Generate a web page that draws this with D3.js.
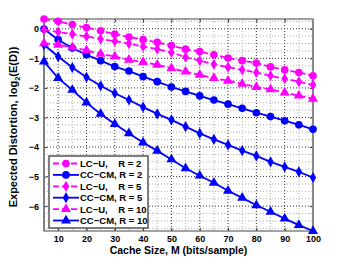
<!DOCTYPE html>
<html>
<head>
<meta charset="utf-8">
<script src="https://cdn.jsdelivr.net/npm/d3@7"></script>
<style>
  body { margin: 0; background: #fff; }
  text { font-family: "Liberation Sans", Arial, sans-serif; font-weight: bold; }
</style>
</head>
<body>
<div id="chart"></div>
<script>
// cache size (bits/sample)
const cacheSize = [5, 10, 15, 20, 25, 30, 35, 40, 45, 50, 55, 60, 65, 70, 75, 80, 85, 90, 95, 100];

// log2 expected distortion per scheme
const lcuR2 = [0.33, 0.25, 0.14, 0.04, -0.07, -0.18, -0.28, -0.37, -0.46, -0.57, -0.69, -0.77, -0.88, -0.99, -1.08, -1.16, -1.29, -1.39, -1.48, -1.59];
const ccR2 = [-0.01, -0.37, -0.65, -0.88, -1.08, -1.28, -1.43, -1.62, -1.79, -1.97, -2.12, -2.27, -2.41, -2.55, -2.69, -2.84, -2.97, -3.11, -3.25, -3.4];
const lcuR5 = [-0.03, -0.11, -0.18, -0.26, -0.35, -0.42, -0.5, -0.6, -0.69, -0.8, -0.96, -1.08, -1.2, -1.3, -1.39, -1.48, -1.59, -1.69, -1.79, -1.9];
const ccR5 = [-0.54, -0.94, -1.31, -1.64, -1.93, -2.18, -2.41, -2.65, -2.88, -3.08, -3.31, -3.54, -3.74, -3.93, -4.12, -4.3, -4.5, -4.67, -4.84, -5.03];
const lcuR10 = [-0.49, -0.54, -0.63, -0.73, -0.85, -0.94, -1.05, -1.13, -1.22, -1.34, -1.45, -1.56, -1.67, -1.76, -1.86, -1.97, -2.05, -2.16, -2.26, -2.37];
const ccR10 = [-1.11, -1.67, -2.07, -2.5, -2.88, -3.22, -3.54, -3.85, -4.13, -4.42, -4.72, -4.97, -5.21, -5.48, -5.72, -5.97, -6.19, -6.42, -6.64, -6.84];

const seriesNames = ["LC\u2212U,    R = 2", "CC\u2212CM, R = 2", "LC\u2212U,    R = 5", "CC\u2212CM, R = 5", "LC\u2212U,    R = 10", "CC\u2212CM, R = 10"];
const xTicks = [10, 20, 30, 40, 50, 60, 70, 80, 90, 100];
const yTicks = [0, -1, -2, -3, -4, -5, -6];

const series = [
  { name: seriesNames[0], values: lcuR2, color: "#ff00ff", dash: "6,3", marker: "circle" },
  { name: seriesNames[1], values: ccR2, color: "#0000ff", dash: null, marker: "circle" },
  { name: seriesNames[2], values: lcuR5, color: "#ff00ff", dash: "6,3", marker: "diamond" },
  { name: seriesNames[3], values: ccR5, color: "#0000ff", dash: null, marker: "diamond" },
  { name: seriesNames[4], values: lcuR10, color: "#ff00ff", dash: "6,3", marker: "triangle" },
  { name: seriesNames[5], values: ccR10, color: "#0000ff", dash: null, marker: "triangle" }
];

const width = 346, height = 260;
const margin = { top: 19, right: 33, bottom: 29, left: 44 };
const w = width - margin.left - margin.right;
const h = height - margin.top - margin.bottom;

const svg = d3.select("#chart").append("svg")
  .attr("width", width)
  .attr("height", height);

const g = svg.append("g")
  .attr("transform", `translate(${margin.left},${margin.top})`);

// axis tight
const allValues = series.flatMap(s => s.values);
const x = d3.scaleLinear().domain(d3.extent(cacheSize)).range([0, w]);
const y = d3.scaleLinear().domain(d3.extent(allValues)).range([h, 0]);

// minor grid
const xMinor = d3.range(5, 100, 5).filter(v => v % 10 !== 0);
const yMinor = d3.range(-6.75, 0.3, 0.25).filter(v => Math.abs(v - Math.round(v)) > 0.01);
g.selectAll(".xminor").data(xMinor).enter().append("line")
  .attr("x1", d => x(d)).attr("x2", d => x(d)).attr("y1", 0).attr("y2", h)
  .attr("stroke", "#b0b0b0").attr("stroke-dasharray", "1,2");
g.selectAll(".yminor").data(yMinor).enter().append("line")
  .attr("x1", 0).attr("x2", w).attr("y1", d => y(d)).attr("y2", d => y(d))
  .attr("stroke", "#b0b0b0").attr("stroke-dasharray", "1,2");

// major grid
g.selectAll(".xmajor").data(xTicks).enter().append("line")
  .attr("x1", d => x(d)).attr("x2", d => x(d)).attr("y1", 0).attr("y2", h)
  .attr("stroke", "#333").attr("stroke-dasharray", "1,2");
g.selectAll(".ymajor").data(yTicks).enter().append("line")
  .attr("x1", 0).attr("x2", w).attr("y1", d => y(d)).attr("y2", d => y(d))
  .attr("stroke", "#333").attr("stroke-dasharray", "1,2");

// axes
g.append("g")
  .attr("transform", `translate(0,${h})`)
  .call(d3.axisBottom(x).tickValues(xTicks).tickSizeInner(-3).tickSizeOuter(0).tickPadding(5));
g.append("g")
  .call(d3.axisLeft(y).tickValues(yTicks).tickSizeInner(-3).tickSizeOuter(0).tickPadding(5)
    .tickFormat(d => d < 0 ? "\u2212" + Math.abs(d) : d));
g.append("g")
  .call(d3.axisTop(x).tickValues(xTicks).tickSizeInner(-3).tickSizeOuter(0).tickFormat(""));
g.append("g")
  .attr("transform", `translate(${w},0)`)
  .call(d3.axisRight(y).tickValues(yTicks).tickSizeInner(-3).tickSizeOuter(0).tickFormat(""));
g.selectAll(".domain").remove();
g.selectAll(".tick line").attr("stroke", "#333");
g.selectAll(".tick text").attr("font-size", "9px").attr("fill", "#000")
  .style("font-family", "'Liberation Sans', Arial, sans-serif").style("font-weight", "bold");

// frame
g.append("rect").attr("width", w).attr("height", h)
  .attr("fill", "none").attr("stroke", "#444").attr("stroke-width", 1);
g.append("line").attr("x1", w).attr("x2", w).attr("y1", 0).attr("y2", h)
  .attr("stroke", "#888").attr("stroke-width", 2);
g.append("line").attr("x1", 0).attr("x2", 0).attr("y1", 0).attr("y2", h)
  .attr("stroke", "#777").attr("stroke-width", 1.5);

const symbolFor = {
  circle: d3.symbol().type(d3.symbolCircle).size(46),
  diamond: d3.symbol().type(d3.symbolDiamond).size(36),
  triangle: d3.symbol().type(d3.symbolTriangle).size(44)
};

const line = d3.line()
  .x((d, i) => x(cacheSize[i]))
  .y(d => y(d));

const plot = g.append("g");
series.forEach(s => {
  plot.append("path")
    .datum(s.values)
    .attr("d", line)
    .attr("fill", "none")
    .attr("stroke", s.color)
    .attr("stroke-width", 1.8)
    .attr("stroke-dasharray", s.dash);
  plot.selectAll(null)
    .data(s.values)
    .enter()
    .append("path")
    .attr("d", symbolFor[s.marker])
    .attr("transform", (d, i) => `translate(${x(cacheSize[i])},${y(d)})`)
    .attr("fill", s.color);
});

// legend
const legend = g.append("g").attr("transform", "translate(5,137)");
legend.append("rect")
  .attr("width", 99).attr("height", 72)
  .attr("fill", "#fff").attr("stroke", "#555").attr("stroke-width", 1.5);
series.forEach((s, i) => {
  const ly = 7.5 + i * 11.4;
  legend.append("line")
    .attr("x1", 4).attr("x2", 30).attr("y1", ly).attr("y2", ly)
    .attr("stroke", s.color).attr("stroke-width", 1.8)
    .attr("stroke-dasharray", s.dash);
  legend.append("path")
    .attr("d", symbolFor[s.marker])
    .attr("transform", `translate(17,${ly})`)
    .attr("fill", s.color);
  legend.append("text")
    .attr("x", 31).attr("y", ly + 3.5)
    .attr("font-size", "9.5px")
    .attr("xml:space", "preserve")
    .style("white-space", "pre")
    .text(s.name);
});

// axis labels
svg.append("text")
  .attr("x", margin.left + w / 2).attr("y", 254)
  .attr("text-anchor", "middle").attr("font-size", "10.5px")
  .text("Cache Size, M (bits/sample)");

const yl = svg.append("text")
  .attr("transform", `translate(17,${margin.top + h / 2 + 2}) rotate(-90)`)
  .attr("text-anchor", "middle").attr("font-size", "11px");
yl.append("tspan").text("Expected Distortion, log");
yl.append("tspan").attr("font-size", "7.5px").attr("dy", 3).text("2");
yl.append("tspan").attr("dy", -3).text("(E(D))");
</script>
</body>
</html>
